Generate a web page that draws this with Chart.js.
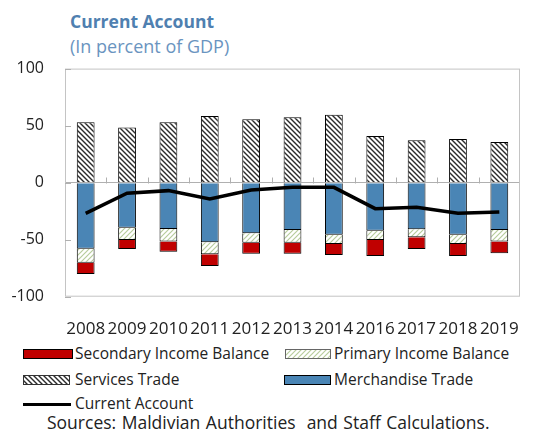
<!DOCTYPE html>
<html>
<head>
<meta charset="utf-8">
<script src="https://cdn.jsdelivr.net/npm/chart.js@4.4.1/dist/chart.umd.min.js"></script>
<style>
  html, body { margin: 0; padding: 0; background: #fff; }
  #wrap { position: relative; width: 533px; height: 433px; overflow: hidden; font-family: "Open Sans", sans-serif; color: #222; }
  .t { position: absolute; white-space: pre; line-height: 1; }
  #box { position: absolute; left: 0; top: 38px; width: 533px; height: 302px; }
  .sw { position: absolute; box-sizing: border-box; }
  .lg { font-size: 15.5px; }
</style>
</head>
<body>
<div id="wrap">
  <div class="t" style="left:70px;top:13px;font-size:17.5px;font-weight:bold;color:#4f80b0;">Current Account</div>
  <div class="t" style="left:70px;top:37px;font-size:18px;color:#6a94c0;">(In percent of GDP)</div>
  <div id="box"><canvas id="c"></canvas></div>

  <div class="sw" id="swSec" style="left:23px;top:349px;width:50px;height:10px;background:#c00000;border:1px solid #000;"></div>
  <div class="t lg" style="left:75px;top:346px;">Secondary Income Balance</div>
  <div class="sw" id="swPri" style="left:285px;top:349px;width:46px;height:10px;border:1px solid #666;"></div>
  <div class="t lg" style="left:334px;top:346px;">Primary Income Balance</div>

  <div class="sw" id="swSvc" style="left:23px;top:375px;width:47px;height:10px;border:1px solid #333;"></div>
  <div class="t lg" style="left:75px;top:372px;">Services Trade</div>
  <div class="sw" id="swMer" style="left:284px;top:375px;width:47px;height:10px;background:#4a85b5;border:1px solid #000;"></div>
  <div class="t lg" style="left:334px;top:372px;">Merchandise Trade</div>

  <div class="sw" style="left:23px;top:403px;width:48px;height:3px;background:#000;"></div>
  <div class="t lg" style="left:75px;top:396px;">Current Account</div>

  <div class="t" style="left:47px;top:414px;font-size:17.5px;word-spacing:1px;">Sources: Maldivian Authorities  and Staff Calculations.</div>
</div>
<script>
// Balance of payments components, percent of GDP
const years = ['2008', '2009', '2010', '2011', '2012', '2013', '2014', '2016', '2017', '2018', '2019'];
const merchandiseTrade = [-57.9, -39.5, -40.6, -52.3, -44.4, -41.5, -45.6, -42.1, -40.9, -45.6, -41.5];
const primaryIncome = [-12.3, -10.8, -11.1, -10.5, -8.2, -11.1, -8.2, -8.2, -7.0, -8.2, -10.2];
const secondaryIncome = [-9.9, -7.9, -8.8, -10.2, -9.7, -9.7, -9.6, -14.0, -10.3, -10.5, -10.3];
const servicesTrade = [53.0, 48.3, 53.0, 58.5, 55.6, 57.4, 59.6, 41.0, 37.2, 38.3, 35.7];
const currentAccount = [-26.9, -9.3, -7.0, -14.3, -6.4, -4.1, -4.1, -22.8, -21.6, -26.9, -25.7];
const yTicks = [100, 50, 0, -50, -100];

// Hatch tiles for the patterned bars
function hatchTile(color, width, backslash) {
  const s = 5;
  const cv = document.createElement('canvas');
  cv.width = s; cv.height = s;
  const g = cv.getContext('2d');
  g.fillStyle = '#fff';
  g.fillRect(0, 0, s, s);
  g.strokeStyle = color;
  g.lineWidth = width;
  g.beginPath();
  if (backslash) {
    g.moveTo(-1, -1); g.lineTo(s + 1, s + 1);
    g.moveTo(-1, s - 1); g.lineTo(1, s + 1);
    g.moveTo(s - 1, -1); g.lineTo(s + 1, 1);
  } else {
    g.moveTo(-1, s + 1); g.lineTo(s + 1, -1);
    g.moveTo(-1, 1); g.lineTo(1, -1);
    g.moveTo(s - 1, s + 1); g.lineTo(s + 1, s - 1);
  }
  g.stroke();
  return cv;
}
const svcTile = hatchTile('#2a2a2a', 1.4, true);
const priTile = hatchTile('#b7cc9c', 1.2, false);
const ctx = document.getElementById('c').getContext('2d');
const svcPattern = ctx.createPattern(svcTile, 'repeat');
const priPattern = ctx.createPattern(priTile, 'repeat');
document.getElementById('swSvc').style.background = 'url(' + svcTile.toDataURL() + ')';
document.getElementById('swPri').style.background = 'url(' + priTile.toDataURL() + ')';

// Frame, inner tick marks on the value axis, and category ticks on the zero line
const framePlugin = {
  id: 'frame',
  beforeDatasetsDraw(chart) {
    const { ctx, chartArea: a, scales: { x, y } } = chart;
    ctx.save();
    ctx.strokeStyle = '#c4c4c4';
    ctx.lineWidth = 1;
    ctx.strokeRect(a.left + 0.5, a.top + 0.5, a.right - a.left - 1, a.bottom - a.top - 1);
    ctx.strokeStyle = '#b0b0b0';
    ctx.beginPath();
    yTicks.forEach(v => {
      const py = Math.round(y.getPixelForValue(v)) + 0.5;
      ctx.moveTo(a.left, py); ctx.lineTo(a.left + 6, py);
    });
    const y0 = Math.round(y.getPixelForValue(0)) + 0.5;
    for (let i = 1; i < years.length; i++) {
      const px = Math.round((x.getPixelForValue(i - 1) + x.getPixelForValue(i)) / 2) + 0.5;
      ctx.moveTo(px, y0); ctx.lineTo(px, y0 - 6);
    }
    ctx.stroke();
    ctx.restore();
  }
};

const barCommon = { borderColor: '#000', borderWidth: 1, barPercentage: 0.43, categoryPercentage: 1, order: 1 };

new Chart(ctx, {
  type: 'bar',
  data: {
    labels: years,
    datasets: [
      { label: 'Merchandise Trade', data: merchandiseTrade, backgroundColor: '#4a85b5', ...barCommon },
      { label: 'Primary Income Balance', data: primaryIncome, backgroundColor: priPattern, ...barCommon },
      { label: 'Secondary Income Balance', data: secondaryIncome, backgroundColor: '#c00000', ...barCommon },
      { label: 'Services Trade', data: servicesTrade, backgroundColor: svcPattern, ...barCommon },
      { label: 'Current Account', type: 'line', data: currentAccount, stack: 'ca', borderColor: '#000',
        borderWidth: 3.5, pointRadius: 0, tension: 0, fill: false, order: 0 }
    ]
  },
  options: {
    responsive: true,
    maintainAspectRatio: false,
    animation: false,
    layout: { padding: { top: 14, right: 5, left: 0, bottom: 0 } },
    plugins: { legend: { display: false }, tooltip: { enabled: false } },
    scales: {
      x: {
        stacked: true,
        grid: { display: false },
        border: { display: false },
        ticks: { autoSkip: false, maxRotation: 0, minRotation: 0, color: '#222', padding: 14,
                 font: { family: 'Open Sans', size: 17 } },
        afterFit(s) { s.height = 43.3; }
      },
      y: {
        stacked: true,
        min: -100, max: 100,
        afterBuildTicks(s) { s.ticks = yTicks.map(v => ({ value: v })); },
        grid: { drawTicks: false, color: c => (c.tick && c.tick.value === 0) ? '#b0b0b0' : 'rgba(0,0,0,0)' },
        border: { display: false },
        ticks: { color: '#222', padding: 21, font: { family: 'Open Sans', size: 16 } },
        afterFit(s) { s.width = 65; }
      }
    }
  },
  plugins: [framePlugin]
});
</script>
</body>
</html>
